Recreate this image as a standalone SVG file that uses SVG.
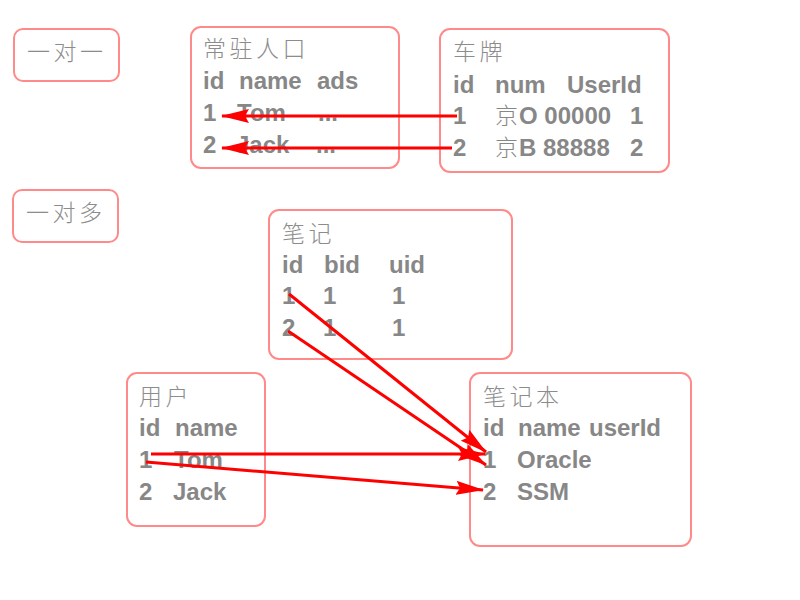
<svg xmlns="http://www.w3.org/2000/svg" width="800" height="600" viewBox="0 0 800 600">
<defs>
<style>
.box{fill:#ffffff;stroke:#ff8a8a;stroke-width:2}
.t{font-family:"Liberation Sans","Noto Sans CJK SC",Arial,sans-serif;font-size:24px;font-weight:bold;fill:#878787}
.h{font-family:"Noto Sans CJK SC","Liberation Sans",sans-serif;font-size:23px;font-weight:300;fill:#8c8c8c;letter-spacing:3.5px}
.c{font-family:"Noto Sans CJK SC","Liberation Sans",sans-serif;font-size:23px;font-weight:300;fill:#878787}
.arr{stroke:#ff0000;stroke-width:3;fill:none;marker-end:url(#ah)}
</style>
<marker id="ah" viewBox="0 0 28 14" markerWidth="28" markerHeight="14" refX="27" refY="7" orient="auto" markerUnits="userSpaceOnUse">
<path d="M0,0 L28,7 L0,14 L4,7 Z" fill="#ff0000"/>
</marker>
</defs>
<rect width="800" height="600" fill="#ffffff"/>

<g id="label-one-to-one">
<rect class="box" x="14" y="29" width="105" height="52" rx="9"/>
<text class="h" x="27" y="60">一对一</text>
</g>

<g id="label-one-to-many">
<rect class="box" x="13" y="190" width="105" height="52" rx="9"/>
<text class="h" x="26" y="221">一对多</text>
</g>

<g id="node-resident">
<rect class="box" x="191" y="27" width="208" height="141" rx="10"/>
<text class="h" x="203" y="57">常驻人口</text>
<text class="t" x="203" y="89">id</text>
<text class="t" x="239" y="89">name</text>
<text class="t" x="317" y="89">ads</text>
<text class="t" x="203" y="121">1</text>
<text class="t" x="237" y="121">Tom</text>
<text class="t" x="318" y="121">...</text>
<text class="t" x="203" y="153">2</text>
<text class="t" x="236" y="153">Jack</text>
<text class="t" x="316" y="153">...</text>
</g>

<g id="node-plate">
<rect class="box" x="440" y="29" width="229" height="143" rx="10"/>
<text class="h" x="453" y="60">车牌</text>
<text class="t" x="453" y="93">id</text>
<text class="t" x="495" y="93">num</text>
<text class="t" x="567" y="93">UserId</text>
<text class="t" x="453" y="124">1</text>
<text class="c" x="495" y="124">京</text>
<text class="t" x="519" y="124">O 00000</text>
<text class="t" x="630" y="124">1</text>
<text class="t" x="453" y="156">2</text>
<text class="c" x="495" y="156">京</text>
<text class="t" x="519" y="156">B 88888</text>
<text class="t" x="630" y="156">2</text>
</g>

<g id="node-note">
<rect class="box" x="269" y="210" width="243" height="149" rx="10"/>
<text class="h" x="282" y="242">笔记</text>
<text class="t" x="282" y="273">id</text>
<text class="t" x="324" y="273">bid</text>
<text class="t" x="389" y="273">uid</text>
<text class="t" x="282" y="304">1</text>
<text class="t" x="323" y="304">1</text>
<text class="t" x="392" y="304">1</text>
<text class="t" x="282" y="336">2</text>
<text class="t" x="323" y="336">1</text>
<text class="t" x="392" y="336">1</text>
</g>

<g id="node-user">
<rect class="box" x="127" y="373" width="138" height="153" rx="10"/>
<text class="h" x="139" y="405">用户</text>
<text class="t" x="139" y="436">id</text>
<text class="t" x="175" y="436">name</text>
<text class="t" x="139" y="468">1</text>
<text class="t" x="174" y="468">Tom</text>
<text class="t" x="139" y="500">2</text>
<text class="t" x="173" y="500">Jack</text>
</g>

<g id="node-notebook">
<rect class="box" x="470" y="373" width="221" height="173" rx="10"/>
<text class="h" x="483" y="405">笔记本</text>
<text class="t" x="483" y="436">id</text>
<text class="t" x="518" y="436">name</text>
<text class="t" x="589" y="436">userId</text>
<text class="t" x="483" y="468">1</text>
<text class="t" x="517" y="468">Oracle</text>
<text class="t" x="483" y="500">2</text>
<text class="t" x="517" y="500">SSM</text>
</g>

<g id="connectors">
<line class="arr" x1="457" y1="116" x2="222" y2="116"/>
<line class="arr" x1="452" y1="148" x2="222" y2="148"/>
<line class="arr" x1="289" y1="294" x2="486" y2="452"/>
<line class="arr" x1="288" y1="331" x2="486" y2="465"/>
<line class="arr" x1="151" y1="454" x2="485" y2="454"/>
<line class="arr" x1="146" y1="462" x2="483" y2="490"/>
</g>
</svg>
